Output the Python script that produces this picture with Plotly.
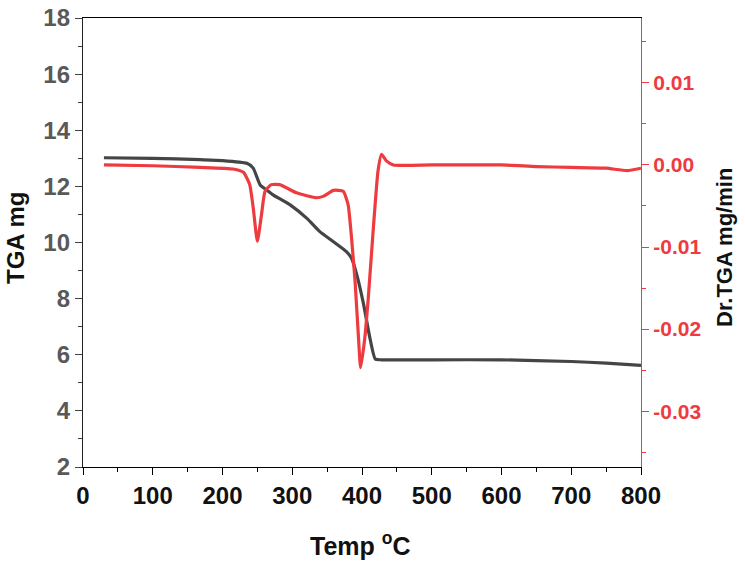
import plotly.graph_objects as go

# TGA curve (mg)
temp_tga = [30, 100, 168, 200, 235, 244, 254, 263, 273, 297, 321, 340, 359, 378, 385, 392, 402, 411, 419, 428, 500, 600, 700, 750, 800]
tga_mg = [13.02, 13.0, 12.95, 12.92, 12.82, 12.65, 12.05, 11.88, 11.69, 11.34, 10.86, 10.38, 10.03, 9.67, 9.44, 8.9, 7.83, 6.64, 5.85, 5.82, 5.82, 5.82, 5.76, 5.7, 5.62]

# Derivative TGA curve (mg/min)
temp_dtg = [30, 100, 168, 215, 230, 239, 244, 250, 256, 261, 270, 282, 306, 335, 345, 359, 373, 380, 385, 390, 395, 398, 404, 409, 416, 423, 428, 435, 445, 500, 600, 650, 700, 750, 780, 800]
dtg = [0.0, -0.0001, -0.0003, -0.0005, -0.0009, -0.0024, -0.0052, -0.0093, -0.006, -0.0032, -0.0024, -0.0024, -0.0034, -0.004, -0.0038, -0.0031, -0.0032, -0.0048, -0.0089, -0.0141, -0.0211, -0.0247, -0.0211, -0.0162, -0.008, -0.0007, 0.0013, 0.0005, 0.0, 0.0, 0.0, -0.0002, -0.0003, -0.0004, -0.0007, -0.0004]

x_ticks = [0, 100, 200, 300, 400, 500, 600, 700, 800]
y_ticks = [2, 4, 6, 8, 10, 12, 14, 16, 18]
y2_ticks = [0.01, 0.0, -0.01, -0.02, -0.03]
y2_labels = ["0.01", "0.00", "-0.01", "-0.02", "-0.03"]

RED = "#ee3b3f"
DARK = "#454545"
FONT = "Liberation Sans"

fig = go.Figure()
fig.add_trace(go.Scatter(x=temp_tga, y=tga_mg, mode="lines",
                         line=dict(color=DARK, width=3.2, shape="spline", smoothing=0.5),
                         showlegend=False))
fig.add_trace(go.Scatter(x=temp_dtg, y=dtg, mode="lines", yaxis="y2",
                         line=dict(color=RED, width=3.2, shape="spline", smoothing=0.5),
                         showlegend=False))

fig.update_layout(
    width=745, height=567,
    margin=dict(l=83, r=104, t=18, b=100),
    paper_bgcolor="white", plot_bgcolor="white",
    font=dict(family=FONT),
    xaxis=dict(
        range=[0, 800], tickvals=x_ticks, ticktext=[str(v) for v in x_ticks],
        automargin=False,
        showgrid=False, zeroline=False,
        showline=True, linecolor="black", linewidth=1.3, mirror=True,
        ticks="outside", ticklen=7, tickcolor="black", tickwidth=1.2,
        minor=dict(dtick=50, tick0=0, ticks="outside", ticklen=4, tickcolor="black"),
        tickfont=dict(family=FONT, size=24, color="#111111", weight="bold"),
    ),
    yaxis=dict(
        range=[2, 18], tickvals=y_ticks, ticktext=[str(v) for v in y_ticks],
        automargin=False,
        showgrid=False, zeroline=False,
        showline=True, linecolor="#222222", linewidth=1.3,
        ticks="outside", ticklen=7, tickcolor="#444444", tickwidth=1.2,
        minor=dict(dtick=1, tick0=0, ticks="outside", ticklen=4, tickcolor="#444444"),
        tickfont=dict(family=FONT, size=24, color="#595959", weight="bold"),
    ),
    yaxis2=dict(
        overlaying="y", side="right", anchor="x",
        range=[-0.0368, 0.0179], tickvals=y2_ticks, ticktext=y2_labels,
        automargin=False,
        showgrid=False, zeroline=False,
        showline=True, linecolor=RED, linewidth=1.3,
        ticks="outside", ticklen=7, tickcolor=RED, tickwidth=1.2,
        minor=dict(dtick=0.005, tick0=0, ticks="outside", ticklen=4, tickcolor=RED),
        tickfont=dict(family=FONT, size=21, color=RED, weight="bold"),
    ),
    annotations=[
        dict(text="Temp <sup>o</sup>C", xref="paper", yref="paper", x=0.498, y=-0.1715,
             xanchor="center", yanchor="middle", showarrow=False,
             font=dict(family=FONT, size=25, color="#111111", weight="bold")),
        dict(text="TGA mg", xref="paper", yref="paper", x=-0.1219, y=0.51,
             xanchor="center", yanchor="middle", showarrow=False, textangle=-90,
             font=dict(family=FONT, size=24, color="#111111", weight="bold")),
        dict(text="Dr.TGA mg/min", xref="paper", yref="paper", x=1.1505, y=0.49,
             xanchor="center", yanchor="middle", showarrow=False, textangle=-90,
             font=dict(family=FONT, size=22, color="#111111", weight="bold")),
    ],
)

fig.write_html("out.html")
